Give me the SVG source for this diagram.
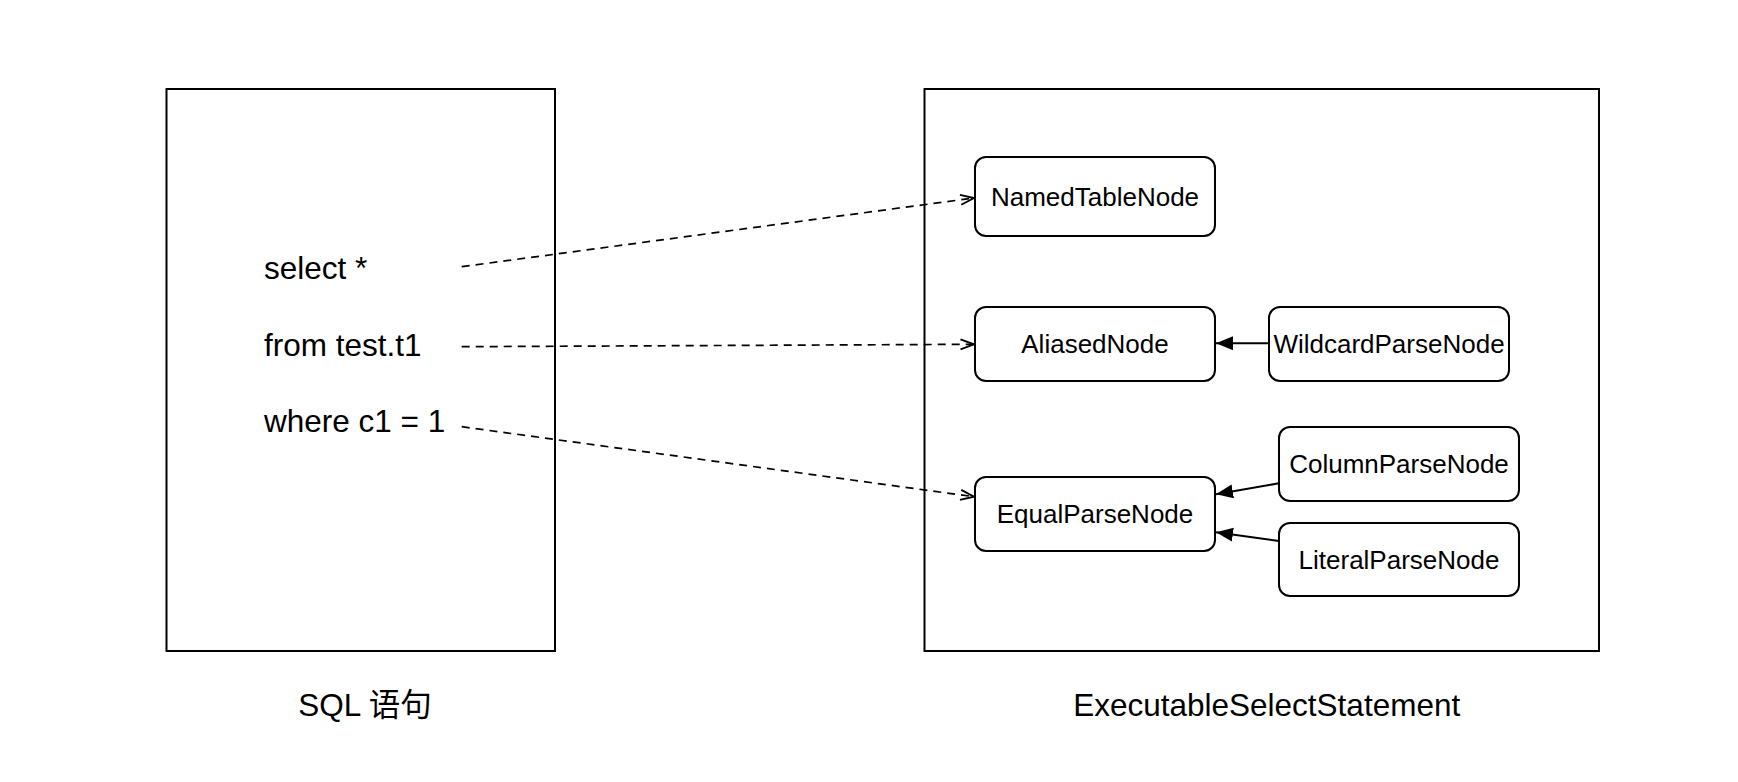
<svg xmlns="http://www.w3.org/2000/svg" width="1738" height="782" viewBox="0 0 1738 782">
<style>
  .frame { fill: #ffffff; stroke: #000000; stroke-width: 2; }
  .node rect { fill: #ffffff; stroke: #000000; stroke-width: 2; }
  .node text { font-family: "Liberation Sans", Arial, sans-serif; font-size: 26px; fill: #000000; text-anchor: middle; }
  .big { font-family: "Liberation Sans", Arial, "Noto Sans CJK SC", sans-serif; font-size: 31.5px; fill: #000000; }
  .dash { fill: none; stroke: #000000; stroke-width: 1.7; stroke-dasharray: 8 6; marker-end: url(#open); }
  .solid { fill: none; stroke: #000000; stroke-width: 2; marker-end: url(#filled); }
</style>
<defs>
  <marker id="open" markerUnits="userSpaceOnUse" markerWidth="16" markerHeight="14" viewBox="0 0 16 14" refX="14.5" refY="7" orient="auto">
    <path d="M1,2 L14.5,7 L1,12" fill="none" stroke="#000000" stroke-width="1.8"/>
  </marker>
  <marker id="filled" markerUnits="userSpaceOnUse" markerWidth="18" markerHeight="16" viewBox="0 0 18 16" refX="17" refY="8" orient="auto">
    <path d="M0,1 L17,8 L0,15 Z" fill="#000000" stroke="none"/>
  </marker>
</defs>
<rect width="1738" height="782" fill="#ffffff"/>

<g id="sql-box">
  <rect class="frame" x="166.5" y="89" width="388.5" height="562"/>
  <text class="big" x="264" y="279.3">select *</text>
  <text class="big" x="264" y="356">from test.t1</text>
  <text class="big" x="264" y="431.7">where c1 = 1</text>
</g>
<g id="sql-label">
  <text class="big" x="365" y="716" text-anchor="middle">SQL 语句</text>
</g>

<g id="statement-box">
  <rect class="frame" x="924.5" y="89" width="674.5" height="562"/>
</g>
<g id="statement-label">
  <text class="big" x="1266.7" y="715.7" text-anchor="middle">ExecutableSelectStatement</text>
</g>

<g id="NamedTableNode" class="node">
  <rect x="975" y="157" width="240" height="79" rx="11"/>
  <text x="1095" y="206">NamedTableNode</text>
</g>
<g id="AliasedNode" class="node">
  <rect x="975" y="307" width="240" height="74" rx="11"/>
  <text x="1095" y="353.3">AliasedNode</text>
</g>
<g id="WildcardParseNode" class="node">
  <rect x="1269" y="307" width="240" height="74" rx="11"/>
  <text x="1389" y="353.3">WildcardParseNode</text>
</g>
<g id="EqualParseNode" class="node">
  <rect x="975" y="477" width="240" height="74" rx="11"/>
  <text x="1095" y="523.3">EqualParseNode</text>
</g>
<g id="ColumnParseNode" class="node">
  <rect x="1279" y="427" width="240" height="74" rx="11"/>
  <text x="1399" y="473.3">ColumnParseNode</text>
</g>
<g id="LiteralParseNode" class="node">
  <rect x="1279" y="523" width="240" height="73" rx="11"/>
  <text x="1399" y="569">LiteralParseNode</text>
</g>

<g id="connectors">
  <line class="dash" x1="461.7" y1="266.7" x2="974" y2="198"/>
  <line class="dash" x1="461.7" y1="346.7" x2="974" y2="344.3"/>
  <line class="dash" x1="461.7" y1="426.7" x2="974" y2="496.7"/>
  <line class="solid" x1="1269" y1="343.3" x2="1216" y2="343.3"/>
  <line class="solid" x1="1279" y1="483.3" x2="1216" y2="494.3"/>
  <line class="solid" x1="1279" y1="541" x2="1216" y2="532.3"/>
</g>
</svg>
